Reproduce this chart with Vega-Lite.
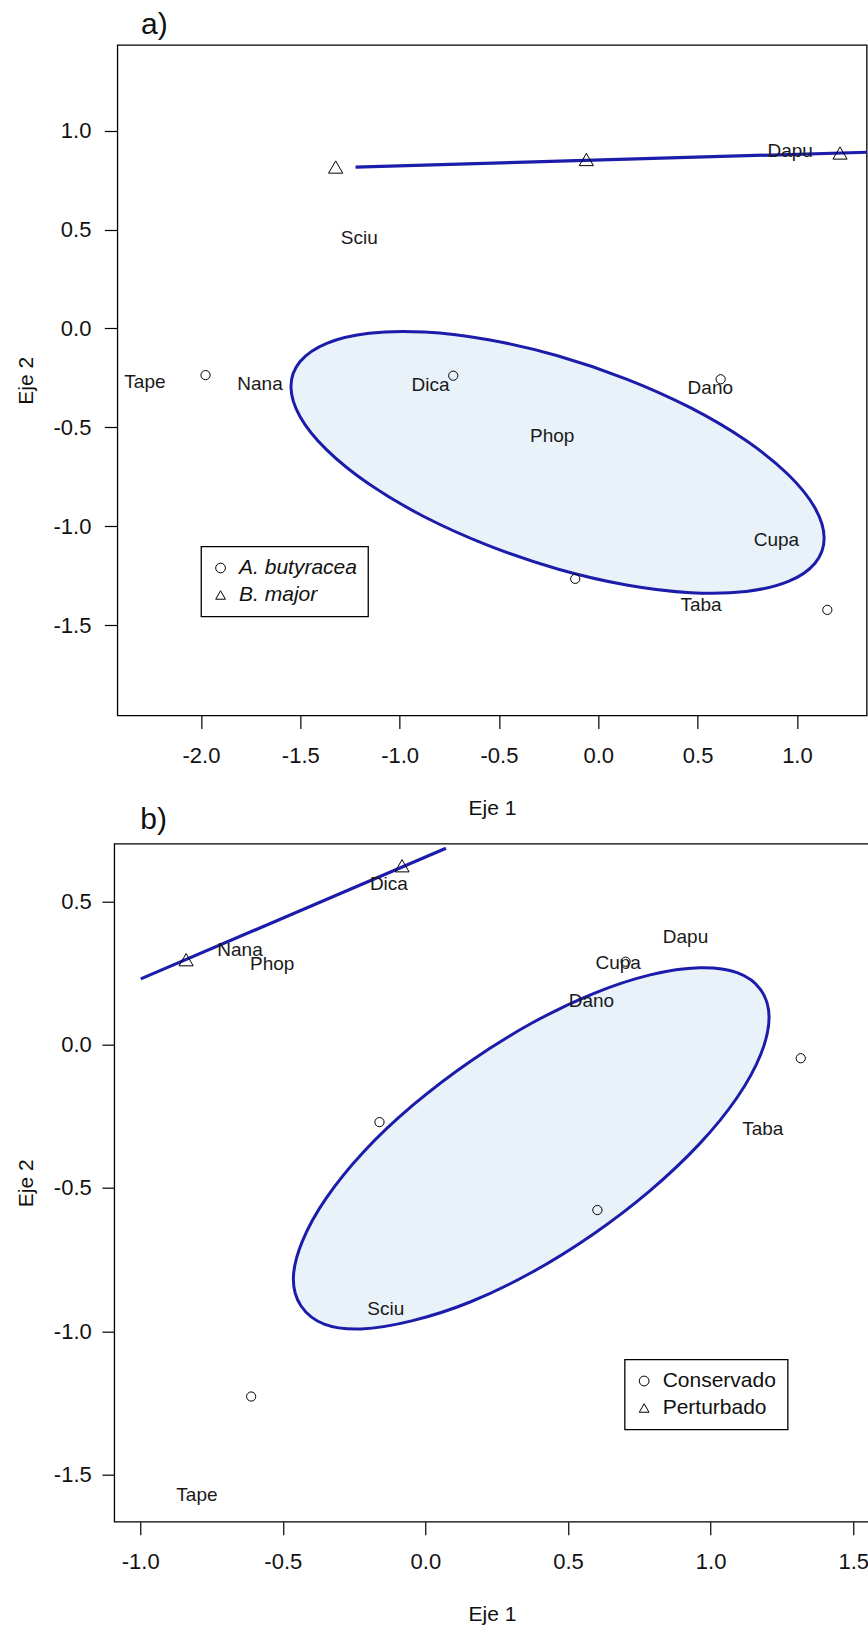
{
  "$schema": "https://vega.github.io/schema/vega-lite/v6.json",
  "padding": {"left": 14, "top": 9, "right": 0, "bottom": 0},
  "background": "white",
  "datasets": {
    "ptsA": [
      {"x": -1.977, "y": -0.236, "g": "A. butyracea"},
      {"x": -0.730, "y": -0.239, "g": "A. butyracea"},
      {"x": 0.616, "y": -0.257, "g": "A. butyracea"},
      {"x": -0.116, "y": -1.266, "g": "A. butyracea"},
      {"x": 1.153, "y": -1.423, "g": "A. butyracea"},
      {"x": -1.322, "y": 0.816, "g": "B. major"},
      {"x": -0.060, "y": 0.854, "g": "B. major"},
      {"x": 1.217, "y": 0.887, "g": "B. major"}
    ],
    "labA": [
      {"x": -1.203, "y": 0.456, "t": "Sciu"},
      {"x": -2.282, "y": -0.272, "t": "Tape"},
      {"x": -1.703, "y": -0.283, "t": "Nana"},
      {"x": -0.844, "y": -0.284, "t": "Dica"},
      {"x": 0.564, "y": -0.302, "t": "Dano"},
      {"x": -0.232, "y": -0.543, "t": "Phop"},
      {"x": 0.897, "y": -1.068, "t": "Cupa"},
      {"x": 0.517, "y": -1.399, "t": "Taba"},
      {"x": 0.966, "y": 0.899, "t": "Dapu"}
    ],
    "ellA": [
      {"i": 0, "x": 1.137, "y": -1.061},
      {"i": 1, "x": 1.091, "y": -0.908},
      {"i": 2, "x": 0.957, "y": -0.740},
      {"i": 3, "x": 0.744, "y": -0.567},
      {"i": 4, "x": 0.466, "y": -0.402},
      {"i": 5, "x": 0.142, "y": -0.256},
      {"i": 6, "x": -0.205, "y": -0.138},
      {"i": 7, "x": -0.552, "y": -0.057},
      {"i": 8, "x": -0.876, "y": -0.018},
      {"i": 9, "x": -1.154, "y": -0.024},
      {"i": 10, "x": -1.367, "y": -0.075},
      {"i": 11, "x": -1.501, "y": -0.167},
      {"i": 12, "x": -1.547, "y": -0.293},
      {"i": 13, "x": -1.501, "y": -0.446},
      {"i": 14, "x": -1.367, "y": -0.614},
      {"i": 15, "x": -1.154, "y": -0.787},
      {"i": 16, "x": -0.876, "y": -0.952},
      {"i": 17, "x": -0.552, "y": -1.098},
      {"i": 18, "x": -0.205, "y": -1.216},
      {"i": 19, "x": 0.142, "y": -1.297},
      {"i": 20, "x": 0.466, "y": -1.336},
      {"i": 21, "x": 0.744, "y": -1.330},
      {"i": 22, "x": 0.957, "y": -1.279},
      {"i": 23, "x": 1.091, "y": -1.187}
    ],
    "segA": [
      {"i": 0, "x": -1.222, "y": 0.816},
      {"i": 1, "x": 1.36, "y": 0.891}
    ],
    "ptsB": [
      {"x": 0.702, "y": 0.290, "g": "Conservado"},
      {"x": 1.316, "y": -0.047, "g": "Conservado"},
      {"x": -0.161, "y": -0.270, "g": "Conservado"},
      {"x": 0.603, "y": -0.577, "g": "Conservado"},
      {"x": -0.611, "y": -1.228, "g": "Conservado"},
      {"x": -0.082, "y": 0.625, "g": "Perturbado"},
      {"x": -0.839, "y": 0.297, "g": "Perturbado"}
    ],
    "labB": [
      {"x": -0.128, "y": 0.562, "t": "Dica"},
      {"x": -0.650, "y": 0.332, "t": "Nana"},
      {"x": -0.537, "y": 0.282, "t": "Phop"},
      {"x": 0.912, "y": 0.375, "t": "Dapu"},
      {"x": 0.676, "y": 0.286, "t": "Cupa"},
      {"x": 0.582, "y": 0.154, "t": "Dano"},
      {"x": 1.183, "y": -0.295, "t": "Taba"},
      {"x": -0.139, "y": -0.922, "t": "Sciu"},
      {"x": -0.801, "y": -1.573, "t": "Tape"}
    ],
    "ellB": [
      {"i": 0, "x": 1.205, "y": 0.095},
      {"i": 1, "x": 1.176, "y": 0.192},
      {"i": 2, "x": 1.093, "y": 0.252},
      {"i": 3, "x": 0.961, "y": 0.269},
      {"i": 4, "x": 0.788, "y": 0.244},
      {"i": 5, "x": 0.587, "y": 0.178},
      {"i": 6, "x": 0.372, "y": 0.075},
      {"i": 7, "x": 0.157, "y": -0.058},
      {"i": 8, "x": -0.044, "y": -0.211},
      {"i": 9, "x": -0.217, "y": -0.374},
      {"i": 10, "x": -0.349, "y": -0.537},
      {"i": 11, "x": -0.432, "y": -0.687},
      {"i": 12, "x": -0.463, "y": -0.815},
      {"i": 13, "x": -0.436, "y": -0.912},
      {"i": 14, "x": -0.355, "y": -0.975},
      {"i": 15, "x": -0.225, "y": -0.992},
      {"i": 16, "x": -0.048, "y": -0.964},
      {"i": 17, "x": 0.157, "y": -0.898},
      {"i": 18, "x": 0.372, "y": -0.795},
      {"i": 19, "x": 0.587, "y": -0.662},
      {"i": 20, "x": 0.788, "y": -0.509},
      {"i": 21, "x": 0.961, "y": -0.346},
      {"i": 22, "x": 1.093, "y": -0.184},
      {"i": 23, "x": 1.176, "y": -0.033}
    ],
    "segB": [
      {"i": 0, "x": -0.998, "y": 0.230},
      {"i": 1, "x": 0.072, "y": 0.686}
    ]
  },
  "vconcat": [
    {
      "title": {"text": "a)", "dx": 23.6, "offset": 5},
      "width": 749.3,
      "height": 670.5,
      "layer": [
        {
          "data": {"name": "ellA"},
          "mark": {"type": "line", "interpolate": "cardinal-closed", "fill": "#e9f2f9", "stroke": "#1c1caa", "strokeWidth": 3, "clip": true},
          "encoding": {
            "x": {"field": "x", "type": "quantitative", "scale": {"domain": [-2.421, 1.351], "nice": false, "zero": false},
              "axis": {"values": [-2, -1.5, -1, -0.5, 0, 0.5, 1], "title": "Eje 1", "tickSize": 13, "labelPadding": 17, "titlePadding": 31,
                "labelExpr": "(datum.value < 0 ? '-' : '') + format(abs(datum.value), '.1f')"}},
            "y": {"field": "y", "type": "quantitative", "scale": {"domain": [-1.957, 1.433], "nice": false, "zero": false},
              "axis": {"values": [-1.5, -1, -0.5, 0, 0.5, 1], "title": "Eje 2", "tickSize": 13, "labelPadding": 13.4, "titlePadding": 16.4,
                "labelExpr": "(datum.value < 0 ? '-' : '') + format(abs(datum.value), '.1f')"}},
            "order": {"field": "i", "type": "quantitative"}
          }
        },
        {
          "data": {"name": "segA"},
          "mark": {"type": "line", "stroke": "#1c1caa", "strokeWidth": 3.2, "clip": true},
          "encoding": {
            "x": {"field": "x", "type": "quantitative"},
            "y": {"field": "y", "type": "quantitative"},
            "order": {"field": "i", "type": "quantitative"}
          }
        },
        {
          "data": {"name": "ptsA"},
          "transform": [{"filter": "datum.g === 'A. butyracea'"}],
          "mark": {"type": "point", "filled": false, "stroke": "black", "strokeWidth": 1, "size": 85, "opacity": 1},
          "encoding": {
            "x": {"field": "x", "type": "quantitative"},
            "y": {"field": "y", "type": "quantitative"},
            "shape": {"field": "g", "type": "nominal", "scale": {"domain": ["A. butyracea", "B. major"], "range": ["circle", "triangle-up"]},
              "legend": {"orient": "none", "legendX": 83.7, "legendY": 501.5, "title": null, "labelFontStyle": "italic"}}
          }
        },
        {
          "data": {"name": "ptsA"},
          "transform": [{"filter": "datum.g === 'B. major'"}],
          "mark": {"type": "point", "filled": false, "stroke": "black", "strokeWidth": 1, "size": 200, "opacity": 1},
          "encoding": {
            "x": {"field": "x", "type": "quantitative"},
            "y": {"field": "y", "type": "quantitative"},
            "shape": {"field": "g", "type": "nominal", "scale": {"domain": ["A. butyracea", "B. major"], "range": ["circle", "triangle-up"]},
              "legend": {"orient": "none", "legendX": 83.7, "legendY": 501.5, "title": null, "labelFontStyle": "italic"}}
          }
        },
        {
          "data": {"name": "labA"},
          "mark": {"type": "text", "fontSize": 19, "font": "Liberation Sans", "color": "#1a1a1a", "align": "center", "baseline": "middle"},
          "encoding": {
            "x": {"field": "x", "type": "quantitative"},
            "y": {"field": "y", "type": "quantitative"},
            "text": {"field": "t", "type": "nominal"}
          }
        }
      ]
    },
    {
      "title": {"text": "b)", "dx": 26, "offset": 9},
      "width": 755.5,
      "height": 678,
      "layer": [
        {
          "data": {"name": "ellB"},
          "mark": {"type": "line", "interpolate": "cardinal-closed", "fill": "#e9f2f9", "stroke": "#1c1caa", "strokeWidth": 3, "clip": true},
          "encoding": {
            "x": {"field": "x", "type": "quantitative", "scale": {"domain": [-1.091, 1.558], "nice": false, "zero": false},
              "axis": {"values": [-1, -0.5, 0, 0.5, 1, 1.5], "title": "Eje 1", "tickSize": 13, "labelPadding": 17, "titlePadding": 31,
                "labelExpr": "(datum.value < 0 ? '-' : '') + format(abs(datum.value), '.1f')"}},
            "y": {"field": "y", "type": "quantitative", "scale": {"domain": [-1.665, 0.702], "nice": false, "zero": false},
              "axis": {"values": [-1.5, -1, -0.5, 0, 0.5], "title": "Eje 2", "tickSize": 12.3, "labelPadding": 10.7, "titlePadding": 16.4,
                "labelExpr": "(datum.value < 0 ? '-' : '') + format(abs(datum.value), '.1f')"}},
            "order": {"field": "i", "type": "quantitative"}
          }
        },
        {
          "data": {"name": "segB"},
          "mark": {"type": "line", "stroke": "#1c1caa", "strokeWidth": 3.2, "clip": true},
          "encoding": {
            "x": {"field": "x", "type": "quantitative"},
            "y": {"field": "y", "type": "quantitative"},
            "order": {"field": "i", "type": "quantitative"}
          }
        },
        {
          "data": {"name": "ptsB"},
          "transform": [{"filter": "datum.g === 'Conservado'"}],
          "mark": {"type": "point", "filled": false, "stroke": "black", "strokeWidth": 1, "size": 85, "opacity": 1},
          "encoding": {
            "x": {"field": "x", "type": "quantitative"},
            "y": {"field": "y", "type": "quantitative"},
            "shape": {"field": "g", "type": "nominal", "scale": {"domain": ["Conservado", "Perturbado"], "range": ["circle", "triangle-up"]},
              "legend": {"orient": "none", "legendX": 510.4, "legendY": 515.8, "title": null}}
          }
        },
        {
          "data": {"name": "ptsB"},
          "transform": [{"filter": "datum.g === 'Perturbado'"}],
          "mark": {"type": "point", "filled": false, "stroke": "black", "strokeWidth": 1, "size": 200, "opacity": 1},
          "encoding": {
            "x": {"field": "x", "type": "quantitative"},
            "y": {"field": "y", "type": "quantitative"},
            "shape": {"field": "g", "type": "nominal", "scale": {"domain": ["Conservado", "Perturbado"], "range": ["circle", "triangle-up"]},
              "legend": {"orient": "none", "legendX": 510.4, "legendY": 515.8, "title": null}}
          }
        },
        {
          "data": {"name": "labB"},
          "mark": {"type": "text", "fontSize": 19, "font": "Liberation Sans", "color": "#1a1a1a", "align": "center", "baseline": "middle"},
          "encoding": {
            "x": {"field": "x", "type": "quantitative"},
            "y": {"field": "y", "type": "quantitative"},
            "text": {"field": "t", "type": "nominal"}
          }
        }
      ]
    }
  ],
  "bounds": "flush",
  "center": true,
  "spacing": 127.7,
  "resolve": {"scale": {"x": "independent", "y": "independent", "shape": "independent"}, "legend": {"shape": "independent"}},
  "config": {
    "font": "Liberation Sans",
    "view": {"stroke": "black", "strokeWidth": 1.3},
    "axis": {"grid": false, "domain": false, "tickColor": "black", "tickWidth": 1.2, "labelColor": "#111", "titleColor": "#111",
      "labelFont": "Liberation Sans", "titleFont": "Liberation Sans", "labelFontSize": 22, "titleFontSize": 21, "titleFontWeight": "normal",
      "labelFlush": false, "labelOverlap": false},
    "title": {"fontSize": 30, "fontWeight": "normal", "font": "Liberation Sans", "anchor": "start", "frame": "group", "color": "#111", "baseline": "bottom"},
    "legend": {"strokeColor": "black", "strokeWidth": 1.3, "fillColor": "white", "padding": 11, "labelFontSize": 21, "labelFont": "Liberation Sans",
      "labelColor": "#111", "symbolSize": 95, "symbolStrokeColor": "black", "symbolStrokeWidth": 1, "symbolFillColor": "transparent",
      "rowPadding": 5, "labelOffset": 8, "symbolOffset": -2, "cornerRadius": 0}
  }
}
